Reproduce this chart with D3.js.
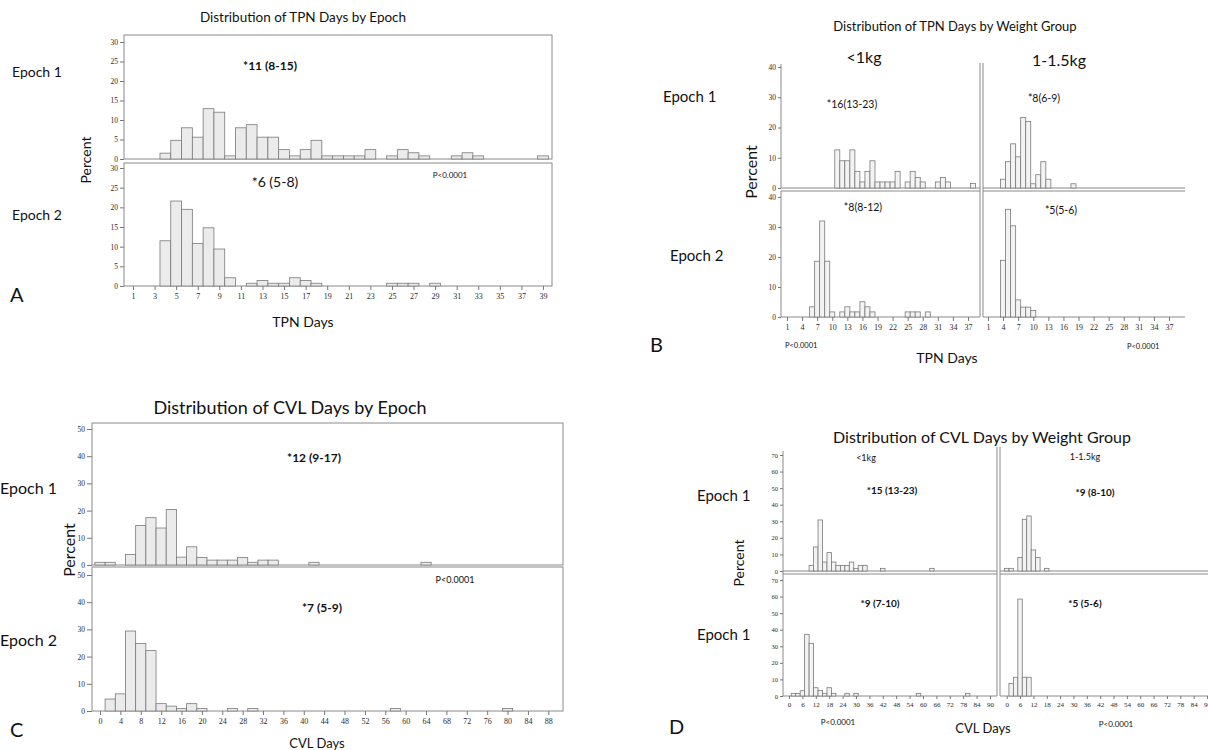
<!DOCTYPE html>
<html>
<head>
<meta charset="utf-8">
<script src="https://cdn.jsdelivr.net/npm/d3@7"></script>
<style>
  body { margin: 0; background: #fff; }
  .lab { font-family: Lato, "Open Sans", sans-serif; fill: #111; }
  .tick text { font-family: "Liberation Serif", "DejaVu Serif", serif; fill: #2a2a2a; }
  .tick line { stroke: #777; }
  .domain { display: none; }
  .bar { stroke: #7a7a7a; stroke-width: 0.8; }
  .frame { stroke: #8a8a8a; stroke-width: 1; fill: none; }
</style>
</head>
<body>
<div id="chart"></div>
<script>
// ---- data: [day, percent] ----
// A: TPN days by epoch (1-day bins)
const tpnEpoch1 = [[4,1.5],[5,4.8],[6,8.0],[7,5.6],[8,12.9],[9,12.0],[10,0.8],[11,8.0],[12,8.8],[13,5.6],[14,5.6],
  [15,2.4],[16,0.8],[17,2.4],[18,4.8],[19,0.8],[20,0.8],[21,0.8],[22,0.8],[23,2.4],[25,0.8],[26,2.4],[27,1.6],
  [28,0.8],[31,0.8],[32,1.6],[33,0.8],[39,0.8]];
const tpnEpoch2 = [[4,11.5],[5,21.6],[6,19.5],[7,10.8],[8,14.8],[9,9.4],[10,2.1],[12,0.7],[13,1.4],[14,0.7],
  [15,0.7],[16,2.1],[17,1.4],[18,0.7],[25,0.7],[26,0.7],[27,0.7],[29,0.7]];
const tpnTicksA = [1,3,5,7,9,11,13,15,17,19,21,23,25,27,29,31,33,35,37,39];
const pctTicksA = [0,5,10,15,20,25,30];

// B: TPN days by weight group
const tpnLt1kgE1 = [[11,12.6],[12,9.0],[13,9.0],[14,12.6],[15,5.5],[16,2.0],[17,5.5],[18,9.0],[19,2.0],[20,2.0],
  [21,2.0],[22,2.0],[23,5.5],[25,2.0],[26,5.5],[27,3.5],[28,2.0],[31,2.0],[32,3.5],[33,2.0],[38,1.5]];
const tpn1to15E1 = [[4,2.9],[5,8.7],[6,14.6],[7,10.3],[8,23.3],[9,22.0],[10,1.4],[11,4.4],[12,8.7],[13,2.9],[18,1.4]];
const tpnLt1kgE2 = [[6,3.4],[7,18.6],[8,32.0],[9,18.6],[10,1.7],[12,1.7],[13,3.4],[14,1.7],[15,1.7],[16,5.1],
  [17,3.4],[18,1.7],[25,1.7],[26,1.7],[27,1.7],[29,1.7]];
const tpn1to15E2 = [[4,18.9],[5,35.9],[6,30.4],[7,5.7],[8,3.3],[9,3.3],[10,2.2]];
const tpnTicksB = [1,4,7,10,13,16,19,22,25,28,31,34,37];
const pctTicksB = [0,10,20,30,40];

// C: CVL days by epoch (2-day bins)
const cvlEpoch1 = [[0,1.0],[2,1.0],[6,3.9],[8,14.5],[10,17.4],[12,13.6],[14,20.4],[16,2.9],[18,6.7],[20,2.8],
  [22,1.8],[24,1.8],[26,1.8],[28,2.8],[30,1.0],[32,1.8],[34,1.8],[42,1.0],[64,1.0]];
const cvlEpoch2 = [[2,4.4],[4,6.3],[6,29.4],[8,24.8],[10,22.2],[12,2.7],[14,1.8],[16,0.9],[18,2.7],[20,0.9],
  [26,0.9],[30,0.9],[58,0.9],[80,0.9]];
const cvlTicksC = [0,4,8,12,16,20,24,28,32,36,40,44,48,52,56,60,64,68,72,76,80,84,88];
const pctTicksC = [0,10,20,30,40,50];

// D: CVL days by weight group
const cvlLt1kgE1 = [[10,3.4],[12,14.5],[14,30.8],[16,5.4],[18,11.1],[20,5.4],[22,3.4],[24,3.4],[26,3.4],[28,5.4],
  [30,1.6],[32,3.4],[34,3.4],[42,1.6],[64,1.6]];
const cvl1to15E1 = [[0,1.6],[2,1.6],[6,8.2],[8,31.2],[10,33.2],[12,12.7],[14,8.2],[18,1.6]];
const cvlLt1kgE2 = [[2,1.6],[4,1.6],[6,3.2],[8,37.2],[10,31.8],[12,5.0],[14,3.4],[16,1.6],[18,5.0],[20,1.6],
  [26,1.6],[30,1.6],[58,1.6],[80,1.6]];
const cvl1to15E2 = [[2,7.6],[4,11.3],[6,58.5],[8,11.3],[10,11.3]];
const cvlTicksD = [0,6,12,18,24,30,36,42,48,54,60,66,72,78,84,90];
const pctTicksD = [0,10,20,30,40,50,60,70];

const svg = d3.select("#chart").append("svg")
  .attr("width", 1208).attr("height", 750);

function bars(data, xs, ys, binW, fill) {
  svg.append("g").selectAll("rect").data(data).enter().append("rect")
    .attr("class", "bar")
    .attr("x", d => xs(d[0] - binW / 2))
    .attr("width", d => xs(d[0] + binW / 2) - xs(d[0] - binW / 2))
    .attr("y", d => ys(d[1]))
    .attr("height", d => ys(0) - ys(d[1]))
    .attr("fill", fill);
}

function yAxis(ys, x, ticks, fs, size) {
  svg.append("g").attr("transform", `translate(${x},0)`)
    .call(d3.axisLeft(ys).tickValues(ticks).tickSize(size).tickPadding(2))
    .selectAll("text").style("font-size", fs + "px");
}

function xAxis(xs, y, ticks, fs, size) {
  svg.append("g").attr("transform", `translate(0,${y})`)
    .call(d3.axisBottom(xs).tickValues(ticks).tickSize(size).tickPadding(3))
    .selectAll("text").style("font-size", fs + "px");
}

function line(x1, y1, x2, y2) {
  svg.append("line").attr("class", "frame")
    .attr("x1", x1).attr("y1", y1).attr("x2", x2).attr("y2", y2);
}

function label(txt, x, y, size, opts = {}) {
  const t = svg.append("text").attr("class", "lab")
    .attr("x", x).attr("y", y)
    .style("font-size", size + "px")
    .attr("text-anchor", opts.anchor || "start")
    .style("font-weight", opts.bold ? "bold" : "normal")
    .text(txt);
  if (opts.rotate) t.attr("transform", `rotate(-90,${x},${y})`);
  return t;
}

// ---------------- Panel A ----------------
{
  const x = d3.scaleLinear().domain([1, 39]).range([133, 543]);
  const yTop = d3.scaleLinear().domain([0, 30]).range([159, 42]);
  const yBot = d3.scaleLinear().domain([0, 30]).range([286, 168]);
  svg.append("rect").attr("class", "frame").attr("x", 124).attr("y", 35).attr("width", 428).attr("height", 124);
  svg.append("rect").attr("class", "frame").attr("x", 124).attr("y", 163).attr("width", 428).attr("height", 123);
  bars(tpnEpoch1, x, yTop, 1, "#ebebeb");
  bars(tpnEpoch2, x, yBot, 1, "#ebebeb");
  yAxis(yTop, 124, pctTicksA, 7.5, 4);
  yAxis(yBot, 124, pctTicksA, 7.5, 4);
  xAxis(x, 286, tpnTicksA, 8, 4);

  label("Distribution of TPN Days by Epoch", 303, 22, 13.5, {anchor: "middle"});
  label("Epoch 1", 12, 77, 14);
  label("Epoch 2", 12, 220, 14);
  label("Percent", 91, 160, 14, {anchor: "middle", rotate: true});
  label("TPN Days", 303, 327, 14, {anchor: "middle"});
  label("A", 10, 302, 20);
  label("*11 (8-15)", 270, 70, 12, {anchor: "middle", bold: true});
  label("*6 (5-8)", 275, 187, 14, {anchor: "middle"});
  label("P<0.0001", 450, 178, 8, {anchor: "middle"});
}

// ---------------- Panel B ----------------
{
  const xL = d3.scaleLinear().domain([1, 37]).range([787, 968]);
  const xR = d3.scaleLinear().domain([1, 37]).range([988, 1169]);
  const yTop = d3.scaleLinear().domain([0, 40]).range([188, 67]);
  const yBot = d3.scaleLinear().domain([0, 40]).range([317, 197]);
  line(781, 64, 781, 188); line(781, 188, 980, 188); line(983, 188, 1185, 188);
  line(980, 63, 980, 317); line(983, 63, 983, 317);
  line(781, 191, 980, 191); line(983, 191, 1185, 191);
  line(781, 191, 781, 317); line(781, 317, 980, 317); line(983, 317, 1185, 317);
  bars(tpnLt1kgE1, xL, yTop, 1, "#f3f3f3");
  bars(tpn1to15E1, xR, yTop, 1, "#f3f3f3");
  bars(tpnLt1kgE2, xL, yBot, 1, "#f3f3f3");
  bars(tpn1to15E2, xR, yBot, 1, "#f3f3f3");
  yAxis(yTop, 781, pctTicksB, 7.5, 3);
  yAxis(yBot, 781, pctTicksB, 7.5, 3);
  xAxis(xL, 317, tpnTicksB, 8, 4);
  xAxis(xR, 317, tpnTicksB, 8, 4);

  label("Distribution of TPN Days by Weight Group", 955, 31, 13, {anchor: "middle"});
  label("<1kg", 864, 63, 16, {anchor: "middle"});
  label("1-1.5kg", 1059, 66, 16, {anchor: "middle"});
  label("Epoch 1", 663, 102, 15);
  label("Epoch 2", 670, 261, 15);
  label("Percent", 757, 172, 16, {anchor: "middle", rotate: true});
  label("TPN Days", 947, 363, 14, {anchor: "middle"});
  label("B", 650, 352, 20);
  label("*16(13-23)", 852, 108, 10.5, {anchor: "middle"});
  label("*8(6-9)", 1044, 102, 10.5, {anchor: "middle"});
  label("*8(8-12)", 863, 211, 10.5, {anchor: "middle"});
  label("*5(5-6)", 1061, 214, 10.5, {anchor: "middle"});
  label("P<0.0001", 785, 348, 7.5);
  label("P<0.0001", 1127, 349, 7.5);
}

// ---------------- Panel C ----------------
{
  const x = d3.scaleLinear().domain([0, 88]).range([100, 548.3]);
  const yTop = d3.scaleLinear().domain([0, 50]).range([565, 429]);
  const yBot = d3.scaleLinear().domain([0, 50]).range([711, 575]);
  svg.append("rect").attr("class", "frame").attr("x", 92).attr("y", 423).attr("width", 471).attr("height", 142);
  svg.append("rect").attr("class", "frame").attr("x", 92).attr("y", 567).attr("width", 471).attr("height", 144);
  bars(cvlEpoch1, x, yTop, 2, "#ebebeb");
  bars(cvlEpoch2, x, yBot, 2, "#ebebeb");
  yAxis(yTop, 92, pctTicksC, 7.5, 5);
  yAxis(yBot, 92, pctTicksC, 7.5, 5);
  xAxis(x, 711, cvlTicksC, 8, 4);

  label("Distribution of CVL Days by Epoch", 290, 414, 18, {anchor: "middle"});
  label("Epoch 1", 0, 494, 16);
  label("Epoch 2", 0, 646, 16);
  label("Percent", 75, 550, 16, {anchor: "middle", rotate: true});
  label("CVL Days", 317, 748, 13, {anchor: "middle"});
  label("C", 10, 737, 20);
  label("*12 (9-17)", 314, 462, 12, {anchor: "middle", bold: true});
  label("*7 (5-9)", 322, 612, 12, {anchor: "middle", bold: true});
  label("P<0.0001", 455, 583, 9, {anchor: "middle"});
}

// ---------------- Panel D ----------------
{
  const xL = d3.scaleLinear().domain([0, 90]).range([789, 990]);
  const xR = d3.scaleLinear().domain([0, 90]).range([1006.7, 1207]);
  const yTop = d3.scaleLinear().domain([0, 70]).range([571, 455]);
  const yBot = d3.scaleLinear().domain([0, 70]).range([696, 580]);
  line(783, 451, 783, 696); line(783, 571, 997, 571); line(1000, 571, 1208, 571);
  line(997, 447, 997, 696); line(1000, 447, 1000, 696);
  line(783, 574, 997, 574); line(1000, 574, 1208, 574);
  line(783, 696, 997, 696); line(1000, 696, 1208, 696);
  bars(cvlLt1kgE1, xL, yTop, 2, "#f3f3f3");
  bars(cvl1to15E1, xR, yTop, 2, "#f3f3f3");
  bars(cvlLt1kgE2, xL, yBot, 2, "#f3f3f3");
  bars(cvl1to15E2, xR, yBot, 2, "#f3f3f3");
  yAxis(yTop, 783, pctTicksD, 6.5, 3);
  yAxis(yBot, 783, pctTicksD, 6.5, 3);
  xAxis(xL, 696, cvlTicksD, 7, 3);
  xAxis(xR, 696, cvlTicksD, 7, 3);

  label("Distribution of CVL Days by Weight Group", 982, 443, 16, {anchor: "middle"});
  label("<1kg", 866, 461, 9, {anchor: "middle"});
  label("1-1.5kg", 1085, 460, 9, {anchor: "middle"});
  label("Epoch 1", 697, 501, 15);
  label("Epoch 1", 697, 640, 15);
  label("Percent", 744, 563, 14, {anchor: "middle", rotate: true});
  label("CVL Days", 983, 733, 13, {anchor: "middle"});
  label("D", 669, 734, 20);
  label("*15 (13-23)", 892, 494, 10, {anchor: "middle", bold: true});
  label("*9 (8-10)", 1095, 496, 10, {anchor: "middle", bold: true});
  label("*9 (7-10)", 880, 607, 10, {anchor: "middle", bold: true});
  label("*5 (5-6)", 1085, 607, 10, {anchor: "middle", bold: true});
  label("P<0.0001", 838, 725, 8, {anchor: "middle"});
  label("P<0.0001", 1116, 727, 8, {anchor: "middle"});
}
</script>
</body>
</html>
